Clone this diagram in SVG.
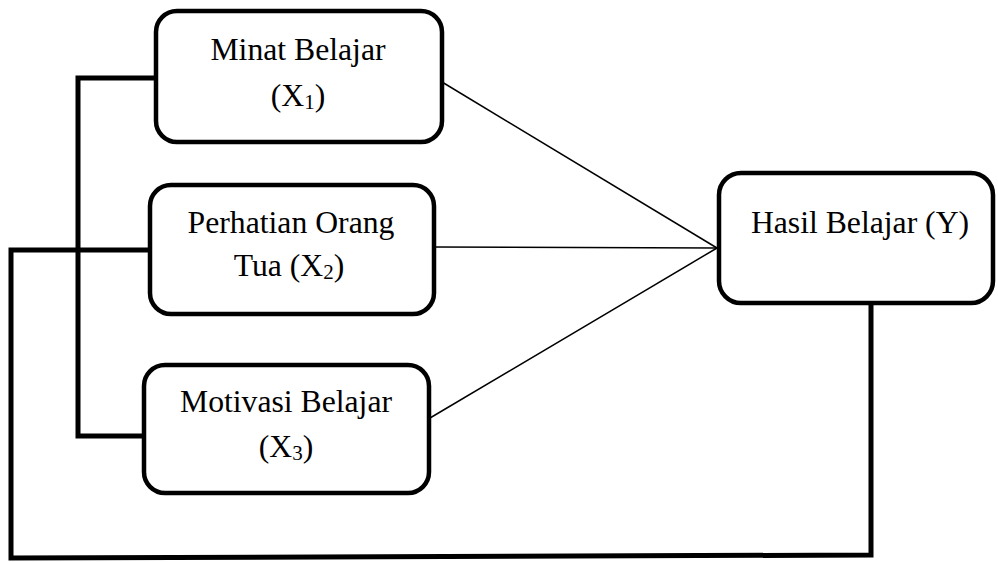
<svg xmlns="http://www.w3.org/2000/svg" width="998" height="562" viewBox="0 0 998 562">
<style>
.box{fill:#fff;stroke:#000;stroke-width:4.5}
.thick{fill:none;stroke:#000;stroke-width:5;stroke-linejoin:miter;stroke-linecap:butt}
.thin{fill:none;stroke:#000;stroke-width:1.5}
.lbl{font-family:"Liberation Serif","Times New Roman",serif;font-size:31.7px;fill:#000;text-anchor:middle}
.sub{font-size:21px}
</style>
<rect width="998" height="562" fill="#fff"/>
<g id="connectors">
<path class="thick" d="M156,78 L78,78 L78,436 L144,436"/>
<path class="thick" d="M150,250 L11,250 L11,558 L871,555 L871,303"/>
<line class="thin" x1="442" y1="82" x2="717" y2="248"/>
<line class="thin" x1="434" y1="247" x2="717" y2="248"/>
<line class="thin" x1="430" y1="418" x2="717" y2="248"/>
</g>
<g id="minat">
<rect class="box" x="156" y="11" width="286" height="131" rx="21" ry="21"/>
<text class="lbl" x="298" y="60">Minat Belajar</text>
<text class="lbl" x="298" y="106">(X<tspan class="sub" dy="3">1</tspan><tspan dy="-3">)</tspan></text>
</g>
<g id="perhatian">
<rect class="box" x="150" y="185" width="284" height="129" rx="21" ry="21"/>
<text class="lbl" x="291" y="233">Perhatian Orang</text>
<text class="lbl" x="289" y="276">Tua (X<tspan class="sub" dy="3">2</tspan><tspan dy="-3">)</tspan></text>
</g>
<g id="motivasi">
<rect class="box" x="144" y="365" width="285" height="128" rx="21" ry="21"/>
<text class="lbl" x="286" y="412">Motivasi Belajar</text>
<text class="lbl" x="286" y="457">(X<tspan class="sub" dy="3">3</tspan><tspan dy="-3">)</tspan></text>
</g>
<g id="hasil">
<rect class="box" x="719" y="173" width="274" height="130" rx="22" ry="22"/>
<text class="lbl" x="860" y="233">Hasil Belajar (Y)</text>
</g>
</svg>
